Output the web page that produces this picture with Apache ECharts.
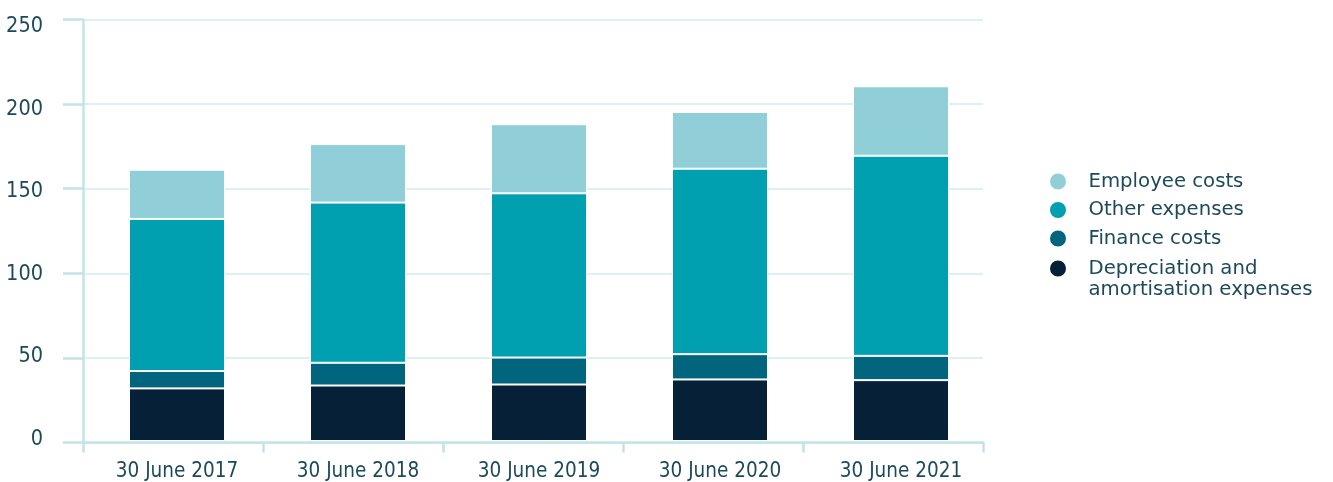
<!DOCTYPE html>
<html>
<head>
<meta charset="utf-8">
<script src="https://cdn.jsdelivr.net/npm/echarts@6/dist/echarts.min.js"></script>
<style>
  html, body { margin: 0; padding: 0; background: #ffffff; }
  #chart { width: 1333px; height: 482px; }
</style>
</head>
<body>
<div id="chart"></div>
<script>
// Expense breakdown by financial year (stacked, bottom to top)
const categories = ['30 June 2017', '30 June 2018', '30 June 2019', '30 June 2020', '30 June 2021'];
const depreciation = [31.2, 32.9, 33.5, 36.5, 36.1];
const financeCosts = [10.3, 13.5, 16.0, 15.0, 14.4];
const otherExpenses = [90.2, 95.0, 97.4, 110.0, 118.7];
const employeeCosts = [29.2, 34.7, 41.0, 33.7, 41.2];
const yTicks = [0, 50, 100, 150, 200, 250];

const names = {
  dep: 'Depreciation and amortisation expenses',
  fin: 'Finance costs',
  oth: 'Other expenses',
  emp: 'Employee costs'
};
const colors = {
  dep: '#062038',
  fin: '#00657d',
  oth: '#00a0b0',
  emp: '#90cfd8'
};

const textColor = '#1d4a5a';
const axisColor = '#c2e4e9';
const axisFont = '"DejaVu Sans Condensed", "DejaVu Sans", sans-serif';
const legendFont = '"DejaVu Sans", sans-serif';

const yMin = yTicks[0];
const yMax = yTicks[yTicks.length - 1];
const yStep = yTicks[1] - yTicks[0];

function barSeries(key, values) {
  return {
    name: names[key],
    type: 'bar',
    stack: 'total',
    xAxisIndex: 1,
    yAxisIndex: 1,
    barWidth: 96,
    data: values,
    itemStyle: { color: colors[key], borderColor: '#ffffff', borderWidth: 1 },
    emphasis: { disabled: true }
  };
}

const legendText = { color: textColor, fontSize: 19.7, lineHeight: 21, fontFamily: legendFont };

const chart = echarts.init(document.getElementById('chart'), null, { renderer: 'canvas' });
chart.setOption({
  animation: false,
  backgroundColor: '#ffffff',
  textStyle: { fontFamily: axisFont },
  grid: [
    // frame: axis lines, ticks and gridlines
    { left: 83, right: 350, top: 19.5, bottom: 39.5, containLabel: false },
    // bars and category labels
    { left: 86.5, right: 341.5, top: 19.5, bottom: 39.5, containLabel: false },
    // value labels, set slightly tighter than the gridlines
    { left: 83, right: 350, top: 26.5, bottom: 42.5, containLabel: false }
  ],
  legend: [
    {
      orient: 'vertical',
      left: 1043,
      top: 166,
      icon: 'circle',
      itemWidth: 51,
      itemHeight: 18,
      itemGap: 7.5,
      selectedMode: false,
      data: [names.emp, names.oth, names.fin],
      textStyle: legendText
    },
    {
      orient: 'vertical',
      left: 1043,
      top: 232,
      icon: 'circle',
      itemWidth: 51,
      itemHeight: 18,
      selectedMode: false,
      data: [names.dep],
      formatter: function () {
        return '{s| }\n{t|Depreciation and}\n{t|amortisation expenses}';
      },
      textStyle: Object.assign({}, legendText, {
        rich: {
          s: { fontSize: 4, lineHeight: 21 },
          t: { color: textColor, fontSize: 19.7, lineHeight: 21, fontFamily: legendFont }
        }
      })
    }
  ],
  xAxis: [
    {
      type: 'category',
      gridIndex: 0,
      data: categories,
      boundaryGap: true,
      axisLine: { lineStyle: { color: axisColor, width: 2.5 } },
      axisTick: { show: true, length: 10, lineStyle: { color: axisColor, width: 2.5 } },
      axisLabel: { show: false },
      splitLine: { show: false }
    },
    {
      type: 'category',
      gridIndex: 1,
      data: categories,
      boundaryGap: true,
      axisLine: { show: false },
      axisTick: { show: false },
      axisLabel: { color: textColor, fontSize: 20.5, margin: 20, fontFamily: axisFont },
      splitLine: { show: false }
    },
    {
      type: 'category',
      gridIndex: 2,
      data: categories,
      show: false
    }
  ],
  yAxis: [
    {
      type: 'value',
      gridIndex: 0,
      min: yMin,
      max: yMax,
      interval: yStep,
      axisLine: { show: true, lineStyle: { color: axisColor, width: 2.5 } },
      axisTick: { show: true, length: 20, lineStyle: { color: axisColor, width: 2.5 } },
      axisLabel: { show: false },
      splitLine: { show: true, lineStyle: { color: '#d2ecef', width: 1.5 } }
    },
    {
      type: 'value',
      gridIndex: 1,
      min: yMin,
      max: yMax,
      interval: yStep,
      show: false,
      splitLine: { show: false }
    },
    {
      type: 'value',
      gridIndex: 2,
      min: yMin,
      max: yMax,
      interval: yStep,
      axisLine: { show: false },
      axisTick: { show: false },
      axisLabel: { color: textColor, fontSize: 21.5, margin: 40, fontFamily: axisFont },
      splitLine: { show: false }
    }
  ],
  series: [
    barSeries('dep', depreciation),
    barSeries('fin', financeCosts),
    barSeries('oth', otherExpenses),
    barSeries('emp', employeeCosts)
  ]
});
</script>
</body>
</html>
